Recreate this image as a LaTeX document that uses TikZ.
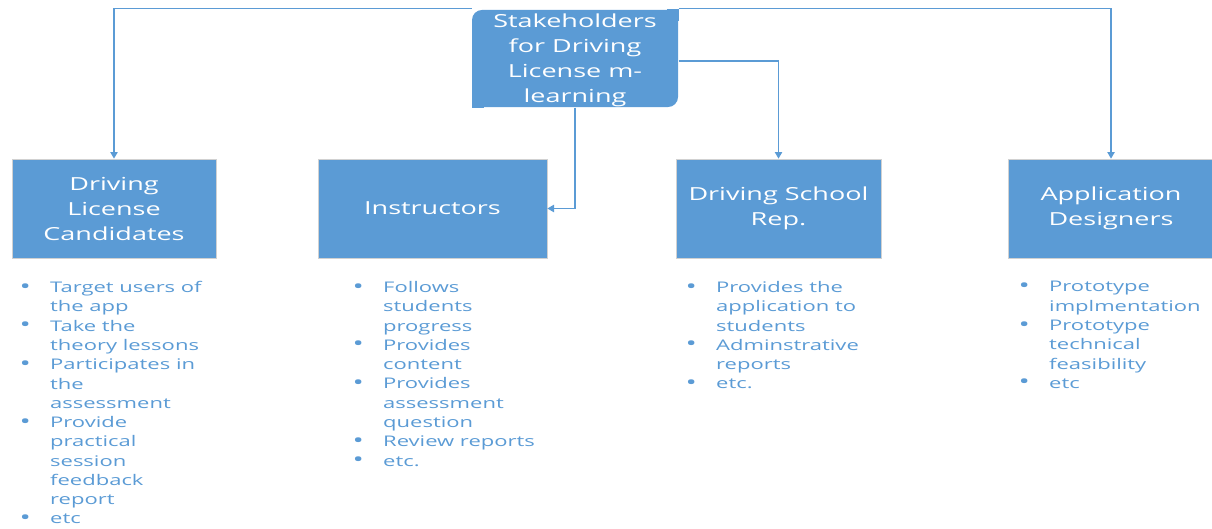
\documentclass[tikz,border=0pt]{standalone}
\usepackage{fontspec}
\setmainfont{Open Sans}[FakeStretch=1.5]
\usetikzlibrary{arrows.meta}
\definecolor{boxblue}{HTML}{5B9BD5}
\tikzset{every picture/.style={line width=0.75pt}}
\tikzset{
	rolebox/.style={fill=boxblue, draw=black!18, line width=0.5pt, text=white, align=center, inner sep=0pt, minimum height=74.25pt, font=\fontsize{13.5pt}{18.75pt}\selectfont},
	rootbox/.style={fill=boxblue, rounded corners=7.5pt, text=white, align=center, inner sep=0pt, minimum width=154.5pt, minimum height=72.75pt, font=\fontsize{13.5pt}{18.75pt}\selectfont},
	link/.style={draw=boxblue, line width=1.1pt, -{Triangle[width=5.5pt,length=5pt]}},
	duties/.style={anchor=north west, inner sep=0pt, align=left, text=boxblue, font=\fontsize{11pt}{14.45pt}\selectfont}
}
\newcommand{\bul}{\makebox[23pt][l]{\raisebox{-0.4pt}{\fontsize{15pt}{14.45pt}\selectfont\textbullet}}}
\newcommand{\cont}{\hspace*{23pt}}

\begin{document}
\begin{tikzpicture}[x=0.75pt,y=0.75pt,yscale=-1,xscale=1]
		\useasboundingbox (0,0) rectangle (1212,528);
		
		\node [rootbox] (root) at (575,58.5) {\rule{0pt}{13.3pt}Stakeholders\\for Driving\\License m-\\learning};
		\fill [boxblue] (root.north east) rectangle ++(-12,12);
		\fill [boxblue] (root.south west) rectangle ++(12,-12);
		
		\node [rolebox, minimum width=153pt] (cand) at (114,208.5) {Driving\\License\\Candidates};
		\node [rolebox, minimum width=171.75pt] (instr) at (432.5,208.5) {Instructors};
		\node [rolebox, minimum width=153.75pt] (school) at (778.5,208.5) {Driving School\\Rep.};
		\node [rolebox, minimum width=154.5pt] (design) at (1111,208.5) {Application\\Designers};
		
		\draw [link] ([yshift=-0.75pt]root.north west) -| (cand.north);
		\draw [link] ([yshift=-0.75pt]root.north east) -| (design.north);
		\draw [link] ([yshift=1.9pt]root.east) -| (school.north);
		\draw [link] (root.south) |- (instr.east);
		
		\node [duties] (candlist) at (19,281) {\bul Target users of\\\cont the app\\\bul Take the\\\cont theory lessons\\\bul Participates in\\\cont the\\\cont assessment\\\bul Provide\\\cont practical\\\cont session\\\cont feedback\\\cont report\\\bul etc};
		\node [duties] (instrlist) at (352,281) {\bul Follows\\\cont students\\\cont progress\\\bul Provides\\\cont content\\\bul Provides\\\cont assessment\\\cont question\\\bul Review reports\\\bul etc.};
		\node [duties] (schoollist) at (685,281) {\bul Provides the\\\cont application to\\\cont students\\\bul Adminstrative\\\cont reports\\\bul etc.};
		\node [duties] (designlist) at (1018,281) {\bul Prototype\\\cont implmentation\\\bul Prototype\\\cont technical\\\cont feasibility\\\bul etc};
		
	\end{tikzpicture}
\end{document}
